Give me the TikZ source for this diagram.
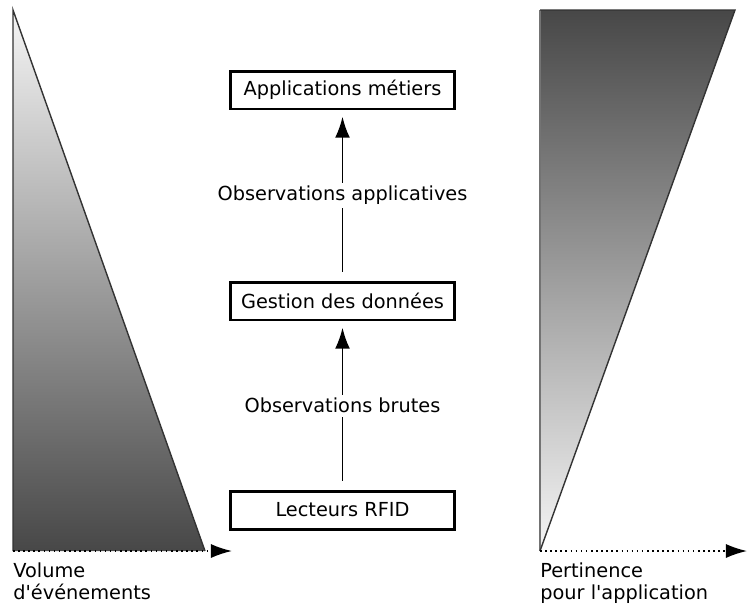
\documentclass[tikz,border=0pt]{standalone}
\usepackage{fontspec}
\setmainfont{DejaVu Sans}
\usetikzlibrary{positioning, arrows.meta}

\tikzset{
	layer/.style = {draw, line width = 1.7pt, minimum width = 4.5cm, minimum height = 0.76cm, inner sep = 0pt},
	flow/.style = {-{Latex[length = 12pt, width = 8.5pt]}, line width = 1.1pt, shorten < = 5pt, shorten > = 3.5pt},
	flowlabel/.style = {fill = white, inner sep = 2pt},
	axis/.style = {-{Latex[length = 12pt, width = 8pt]}, dotted, line width = 0.9pt},
	axislabel/.style = {anchor = north west, align = left, inner sep = 0pt}
}

\begin{document}
\begin{tikzpicture}[x = 0.02cm, y = -0.02cm, font = \fontsize{11}{12.6}\selectfont]

	\useasboundingbox (0, 0) rectangle (747, 606);

	% Volume of events, decreasing towards the top

	\shade [top color = gray!8, bottom color = black!72] (13, 10) -- (13, 551) -- (205, 551) -- cycle;
	\draw [black!80, thick] (13, 551) -- (13, 10) -- (205, 551);

	\coordinate (volO) at (13, 551);
	\coordinate (volX) at (232, 551);
	\draw [axis] (volO) -- (volX);
	\node [axislabel] (volume) at (13, 562) {Volume\\d\textquotesingle événements};

	% Relevance for the application, increasing towards the top

	\shade [top color = black!72, bottom color = gray!8] (540, 551) -- (540, 10) -- (735, 10) -- cycle;
	\draw [black!55, thick] (540, 551) -- (540, 10);
	\draw [black!80, thick] (540, 10) -- (735, 10) -- (540, 551);

	\coordinate (pertO) at (540, 551);
	\coordinate (pertX) at (747, 551);
	\draw [axis] (pertO) -- (pertX);
	\node [axislabel] (pertinence) at (540, 562) {Pertinence\\pour l\textquotesingle application};

	% Layers

	\node [layer] (apps) at (342.5, 90) {Applications métiers};
	\node [layer] (gestion) at (342.5, 301) {Gestion des données};
	\node [layer] (rfid) at (342.5, 510) {Lecteurs RFID};

	% Observations going up

	\draw [flow] (rfid) -- node [flowlabel] {Observations brutes} (gestion);
	\draw [flow] (gestion) -- node [flowlabel] {Observations applicatives} (apps);

\end{tikzpicture}
\end{document}
